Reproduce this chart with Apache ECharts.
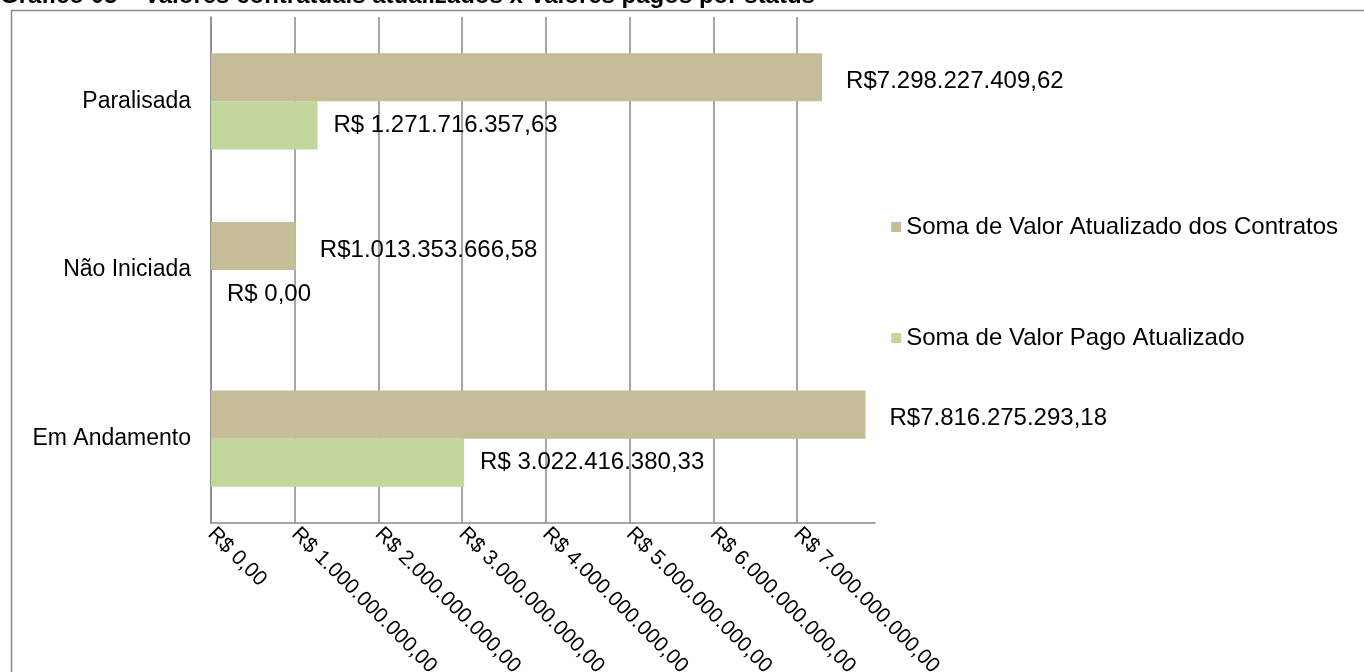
<!DOCTYPE html>
<html>
<head>
<meta charset="utf-8">
<title>Valores contratuais x valores pagos</title>
<script src="https://cdn.jsdelivr.net/npm/echarts@6/dist/echarts.min.js"></script>
<style>
  html, body { margin: 0; padding: 0; background: #fff; }
  #main { width: 1364px; height: 672px; }
</style>
</head>
<body>
<div id="main"></div>
<script>
// status categories, bottom to top as drawn
const statusList = ['Em Andamento', 'Não Iniciada', 'Paralisada']
const valorContratos = [7816275293.18, 1013353666.58, 7298227409.62]
const valorPago = [3022416380.33, 0, 1271716357.63]
const seriesNames = ['Soma de Valor Atualizado dos Contratos', 'Soma de Valor Pago Atualizado']
const titulo = 'Gráfico 05 – Valores contratuais atualizados x Valores pagos por status'

// R$ format: 1.234.567,89
function brl(v) {
  const parts = Number(v).toFixed(2).split('.')
  return parts[0].replace(/\B(?=(\d{3})+(?!\d))/g, '.') + ',' + parts[1]
}

const font = 'Liberation Sans, Arial, sans-serif'
const chartDom = document.getElementById('main')
const myChart = echarts.init(chartDom)

const option = {
  animation: false,
  textStyle: { fontFamily: font },
  graphic: [
    {
      type: 'rect',
      left: 9,
      top: 8,
      shape: { width: 1360, height: 700 },
      style: { fill: 'none', stroke: '#8a8a8a', lineWidth: 1.5 }
    },
    {
      type: 'text',
      left: 0,
      top: -16,
      style: { text: titulo, font: 'bold 24px ' + font, fill: '#000' }
    }
  ],
  legend: {
    data: seriesNames,
    orient: 'vertical',
    right: 21,
    top: 210,
    itemGap: 87,
    itemWidth: 10,
    itemHeight: 10,
    icon: 'rect',
    textStyle: { fontSize: 24, lineHeight: 24, color: '#000', fontFamily: font }
  },
  grid: {
    left: 211,
    right: 489,
    top: 17,
    bottom: 149,
    outerBoundsMode: 'none'
  },
  xAxis: {
    type: 'value',
    min: 0,
    max: 7.93e9,
    interval: 1e9,
    axisLine: { show: true, lineStyle: { color: '#8a8a8a', width: 1.5 } },
    axisTick: { show: false },
    splitLine: { show: true, showMaxLine: false, lineStyle: { color: '#8a8a8a', width: 1.5 } },
    axisLabel: {
      rotate: -45,
      margin: 8,
      showMaxLabel: false,
      color: '#000',
      fontSize: 21,
      fontFamily: font,
      formatter: v => 'R$ ' + brl(v)
    }
  },
  yAxis: {
    type: 'category',
    data: statusList,
    axisLine: { show: true, lineStyle: { color: '#8a8a8a', width: 1.5 } },
    axisTick: { show: false },
    axisLabel: { margin: 20, color: '#000', fontSize: 23, fontFamily: font }
  },
  series: [
    {
      name: seriesNames[0],
      type: 'bar',
      barGap: '0%',
      barCategoryGap: '43%',
      itemStyle: { color: '#C4BD97' },
      label: {
        show: true,
        position: 'right',
        distance: 24,
        offset: [0, 4],
        color: '#000',
        fontSize: 24,
        fontFamily: font,
        formatter: p => 'R$' + brl(p.value)
      },
      data: valorContratos
    },
    {
      name: seriesNames[1],
      type: 'bar',
      barGap: '0%',
      barCategoryGap: '43%',
      itemStyle: { color: '#C3D69B' },
      label: {
        show: true,
        position: 'right',
        distance: 16,
        color: '#000',
        fontSize: 24,
        fontFamily: font,
        formatter: p => 'R$ ' + brl(p.value)
      },
      data: valorPago
    }
  ]
}

option && myChart.setOption(option)
</script>
</body>
</html>
